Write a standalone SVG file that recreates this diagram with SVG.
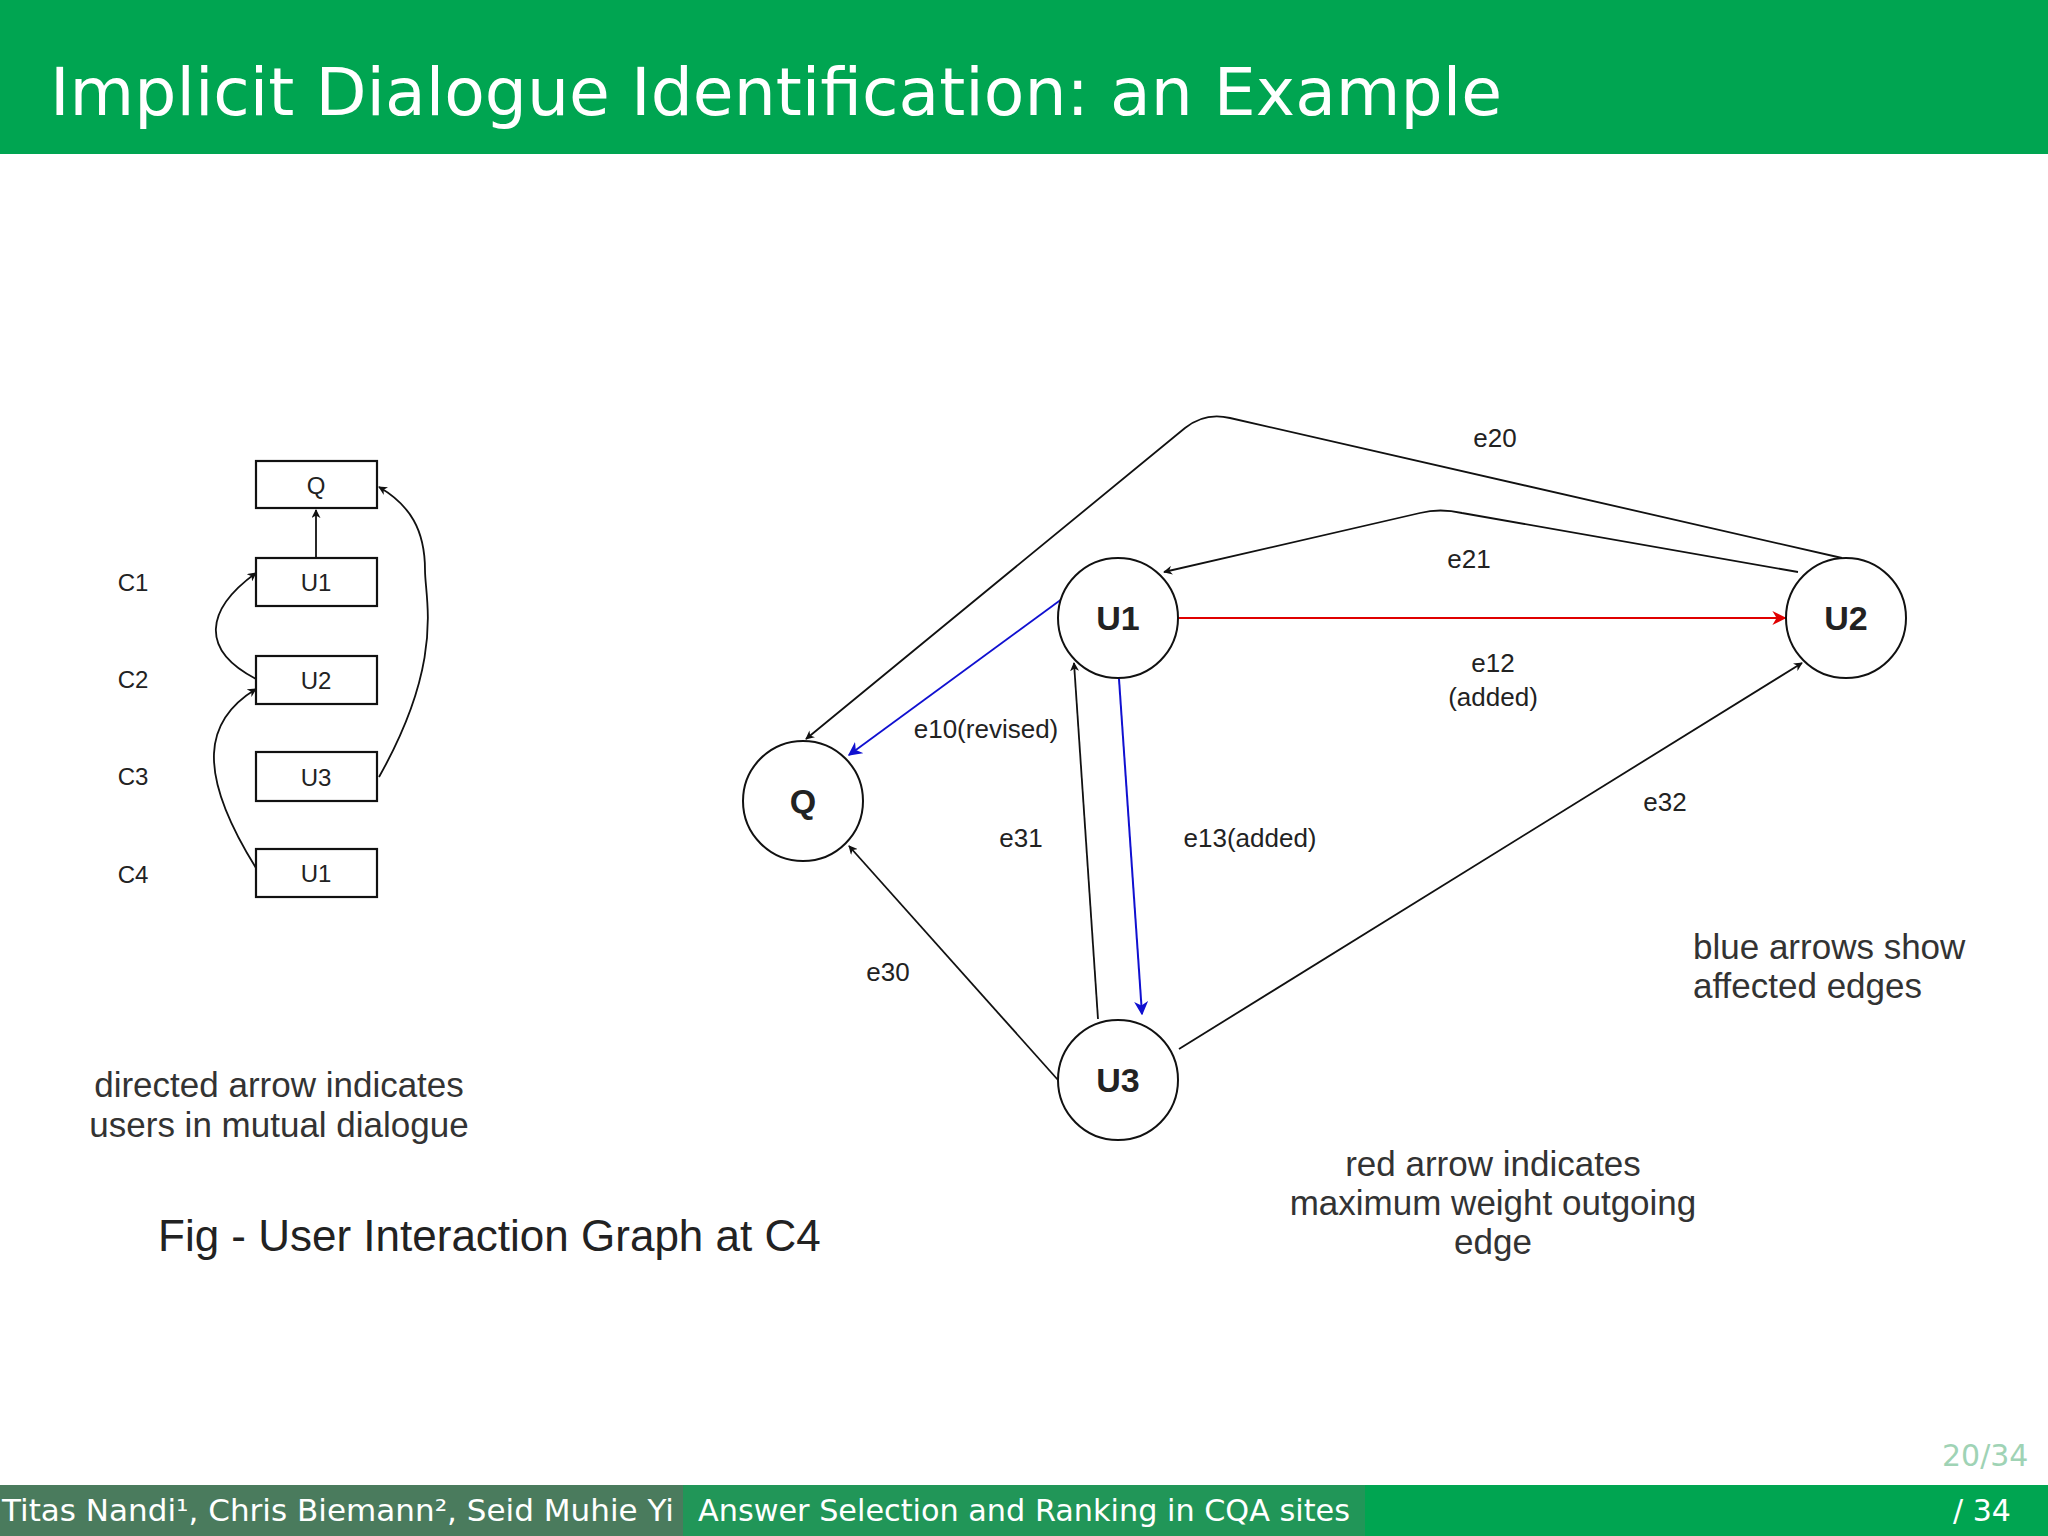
<svg xmlns="http://www.w3.org/2000/svg" width="2048" height="1536" viewBox="0 0 2048 1536">
<style>
.t{font-family:"Liberation Sans",Arial,sans-serif;fill:#222}
.lb{font-size:26px;text-anchor:middle}
.nd{font-size:34px;font-weight:bold;text-anchor:middle}
.bx{font-size:24px;text-anchor:middle}
.note{font-size:35px;fill:#333}
.node{fill:#fff;stroke:#111;stroke-width:2}
.box{fill:#fff;stroke:#111;stroke-width:2.2}
.e{fill:none;stroke:#111;stroke-width:1.8}
</style>
<defs>
<marker id="ak" viewBox="0 0 10 10" refX="9" refY="5" markerWidth="9" markerHeight="9" orient="auto" markerUnits="userSpaceOnUse"><path d="M0,0L10,5L0,10L3,5z" fill="#111"/></marker>
<marker id="ab" viewBox="0 0 10 10" refX="9" refY="5" markerWidth="14" markerHeight="14" orient="auto" markerUnits="userSpaceOnUse"><path d="M0,0L10,5L0,10L3,5z" fill="#1010d0"/></marker>
<marker id="ar" viewBox="0 0 10 10" refX="9" refY="5" markerWidth="14" markerHeight="14" orient="auto" markerUnits="userSpaceOnUse"><path d="M0,0L10,5L0,10L3,5z" fill="#e00000"/></marker>
</defs>
<rect width="2048" height="1536" fill="#fff"/>
<rect width="2048" height="154" fill="#00a551"/>
<text x="50" y="115" font-family="DejaVu Sans,sans-serif" font-size="66" fill="#fff" textLength="1452" lengthAdjust="spacingAndGlyphs">Implicit Dialogue Identification: an Example</text>

<g id="connectors">
<path class="e" d="M316,558V510" marker-end="url(#ak)"/>
<path class="e" d="M256,679C200,650 205,610 256,573" marker-end="url(#ak)"/>
<path class="e" d="M256,868C195,770 205,720 256,689" marker-end="url(#ak)"/>
<path class="e" d="M379,777C445,660 425,600 425,570C425,530 410,505 379,487" marker-end="url(#ak)"/>
<path class="e" d="M1842,558L1230,418Q1205,412 1185,428L806,739" marker-end="url(#ak)"/>
<path class="e" d="M1798,572L1462,513Q1440,508 1420,513L1164,572" marker-end="url(#ak)"/>
<path d="M1178,618H1785" stroke="#e00000" stroke-width="2" fill="none" marker-end="url(#ar)"/>
<path d="M1066,596L849,755" stroke="#1010d0" stroke-width="1.8" fill="none" marker-end="url(#ab)"/>
<path class="e" d="M1098,1019L1074,663" marker-end="url(#ak)"/>
<path d="M1119,679L1142,1014" stroke="#1010d0" stroke-width="2" fill="none" marker-end="url(#ab)"/>
<path class="e" d="M1058,1080L849,846" marker-end="url(#ak)"/>
<path class="e" d="M1179,1049L1802,663" marker-end="url(#ak)"/>
</g>

<g id="box-q"><rect class="box" x="256" y="461" width="121" height="47"/><text class="t bx" x="316" y="494">Q</text></g>
<g id="box-u1a"><rect class="box" x="256" y="558" width="121" height="48"/><text class="t bx" x="316" y="591">U1</text></g>
<g id="box-u2"><rect class="box" x="256" y="656" width="121" height="48"/><text class="t bx" x="316" y="689">U2</text></g>
<g id="box-u3"><rect class="box" x="256" y="752" width="121" height="49"/><text class="t bx" x="316" y="786">U3</text></g>
<g id="box-u1b"><rect class="box" x="256" y="849" width="121" height="48"/><text class="t bx" x="316" y="882">U1</text></g>
<g id="clabels" class="t bx">
<text x="133" y="591">C1</text><text x="133" y="688">C2</text><text x="133" y="785">C3</text><text x="133" y="883">C4</text>
</g>

<g id="node-u1"><circle class="node" cx="1118" cy="618" r="60"/><text class="t nd" x="1118" y="630">U1</text></g>
<g id="node-u2"><circle class="node" cx="1846" cy="618" r="60"/><text class="t nd" x="1846" y="630">U2</text></g>
<g id="node-q"><circle class="node" cx="803" cy="801" r="60"/><text class="t nd" x="803" y="813">Q</text></g>
<g id="node-u3"><circle class="node" cx="1118" cy="1080" r="60"/><text class="t nd" x="1118" y="1092">U3</text></g>

<g id="edge-labels" class="t lb">
<text x="1495" y="447">e20</text>
<text x="1469" y="568">e21</text>
<text x="1493" y="672">e12</text>
<text x="1493" y="706">(added)</text>
<text x="986" y="738">e10(revised)</text>
<text x="1021" y="847">e31</text>
<text x="1250" y="847">e13(added)</text>
<text x="1665" y="811">e32</text>
<text x="888" y="981">e30</text>
</g>

<g id="notes" class="t note">
<text x="1693" y="959">blue arrows show</text>
<text x="1693" y="998">affected edges</text>
<text x="1493" y="1176" text-anchor="middle">red arrow indicates</text>
<text x="1493" y="1215" text-anchor="middle">maximum weight outgoing</text>
<text x="1493" y="1254" text-anchor="middle">edge</text>
<text x="279" y="1097" text-anchor="middle">directed arrow indicates</text>
<text x="279" y="1137" text-anchor="middle">users in mutual dialogue</text>
<text x="158" y="1251" font-size="44" fill="#222">Fig - User Interaction Graph at C4</text>
</g>

<g id="footer">
<rect x="0" y="1485" width="683" height="51" fill="#4a7b5d"/>
<rect x="683" y="1485" width="682" height="51" fill="#219658"/>
<rect x="1365" y="1485" width="683" height="51" fill="#00a551"/>
<text x="2" y="1521" font-family="DejaVu Sans,sans-serif" font-size="30" fill="#fff" textLength="672" lengthAdjust="spacingAndGlyphs">Titas Nandi¹, Chris Biemann², Seid Muhie Yi</text>
<text x="698" y="1521" font-family="DejaVu Sans,sans-serif" font-size="30" fill="#fff" textLength="652" lengthAdjust="spacingAndGlyphs">Answer Selection and Ranking in CQA sites</text>
<text x="1953" y="1521" font-family="DejaVu Sans,sans-serif" font-size="30" fill="#fff">/ 34</text>
<text x="1942" y="1466" font-family="DejaVu Sans,sans-serif" font-size="30" fill="#9fd3b5">20/34</text>
</g>
</svg>
